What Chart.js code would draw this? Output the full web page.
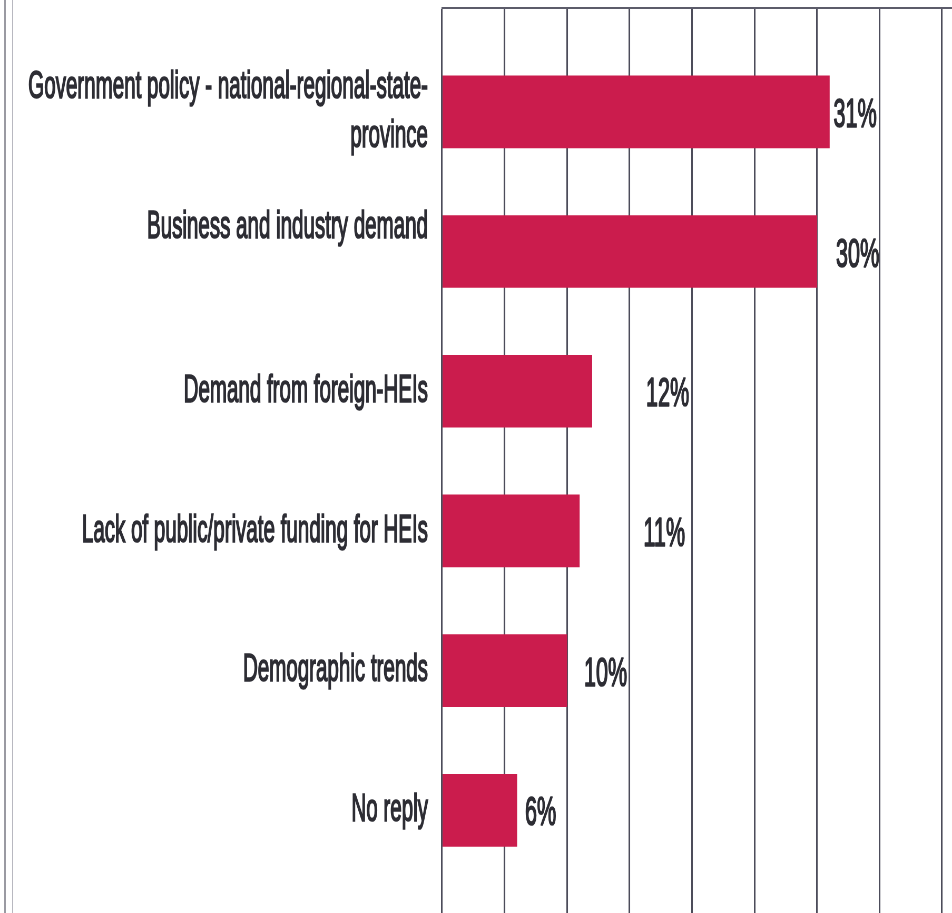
<!DOCTYPE html>
<html>
<head>
<meta charset="utf-8">
<script src="https://cdn.jsdelivr.net/npm/chart.js@4.4.1/dist/chart.umd.min.js"></script>
<style>
  html, body { margin: 0; padding: 0; background: #fff; overflow: hidden; }
  #frame { position: absolute; left: 4px; top: 0; width: 6px; height: 913px;
           border-left: 2px solid #9a9aa2; border-right: 1px solid #b8b8c0; }
  #wrap { position: absolute; left: 0; top: 0; width: 952px; height: 913px; overflow: hidden; }
  #c { display: block; }
</style>
</head>
<body>
<div id="frame"></div>
<div id="wrap"><canvas id="c"></canvas></div>
<script>
var categories = [
    ['Government policy - national-regional-state-', 'province'],
    ['Business and industry demand', ''],
    'Demand from foreign-HEIs',
    'Lack of public/private funding for HEIs',
    'Demographic trends',
    'No reply'
];
var shares = [31, 30, 12, 11, 10, 6];
var shareLabels = ['31%', '30%', '12%', '11%', '10%', '6%'];
var xTicks = [0, 5, 10, 15, 20, 25, 30, 35, 40];

var FONT = '"Liberation Sans Narrow", "Liberation Sans", Arial, sans-serif';
var TEXT = '#2d2d34';
var STROKE = 1.6; // a touch of stroke to get the medium weight of the original

// the original is a squeezed scan: draw wide, let the browser squeeze the canvas
var probe = document.createElement('canvas').getContext('2d');
probe.font = '39px ' + FONT;
var squeeze = 281 / probe.measureText('Business and industry demand').width;
function px(d) { return d / squeeze; } // display px -> canvas px (horizontal)

var canvas = document.getElementById('c');
canvas.width = Math.round(952 / squeeze);
canvas.height = 913;
canvas.style.width = '952px';
canvas.style.height = '913px';

var shareLabelPlugin = {
    id: 'shareLabels',
    afterDatasetsDraw: function (chart, args, opts) {
        var ctx = chart.ctx;
        var meta = chart.getDatasetMeta(0);
        ctx.save();
        ctx.font = opts.size + 'px ' + FONT;
        ctx.fillStyle = TEXT;
        ctx.strokeStyle = TEXT;
        ctx.lineWidth = STROKE;
        ctx.lineJoin = 'round';
        ctx.textAlign = 'left';
        ctx.textBaseline = 'alphabetic';
        meta.data.forEach(function (bar, i) {
            var x = bar.x + px(opts.gaps[i]);
            var y = bar.y + opts.size * 0.37;
            ctx.strokeText(shareLabels[i], x, y);
            ctx.fillText(shareLabels[i], x, y);
        });
        ctx.restore();
    }
};

new Chart(canvas, {
    type: 'bar',
    data: {
        datasets: [{
            data: shares.map(function (v, i) { return { x: v, y: i }; }),
            backgroundColor: '#cb1c4d',
            barThickness: 72
        }]
    },
    options: {
        indexAxis: 'y',
        responsive: false,
        devicePixelRatio: 1,
        animation: false,
        layout: { padding: { top: 8, left: 0, right: 0, bottom: 0 } },
        plugins: {
            legend: { display: false },
            tooltip: { enabled: false },
            shareLabels: { size: 41, gaps: [4, 19, 54, 64, 17, 8] }
        },
        scales: {
            x: {
                type: 'linear',
                position: 'top',
                min: 0,
                max: 40.8, // right edge of the picture cuts just past the 40% line
                afterBuildTicks: function (s) { s.ticks = xTicks.map(function (v) { return { value: v }; }); },
                ticks: { display: false },
                grid: { color: '#4c4c5a', lineWidth: px(1.6), drawTicks: false },
                border: { display: true, color: '#5c5c6a', width: 2 }
            },
            y: {
                type: 'linear',
                reverse: true,
                offset: false,
                min: -0.743,
                max: 5.735,
                afterFit: function (s) {
                    s.width = px(442);
                    s.paddingTop = 0;
                    s.paddingBottom = 0;
                },
                grid: { display: false, drawTicks: false },
                border: { display: false },
                ticks: {
                    stepSize: 1,
                    includeBounds: false,
                    autoSkip: false,
                    padding: px(14),
                    color: TEXT,
                    textStrokeColor: TEXT,
                    textStrokeWidth: STROKE,
                    font: { family: FONT, size: 39, lineHeight: 49 / 39 },
                    callback: function (v) { return Number.isInteger(v) ? categories[v] : ''; }
                }
            }
        }
    },
    plugins: [shareLabelPlugin]
});
</script>
</body>
</html>
